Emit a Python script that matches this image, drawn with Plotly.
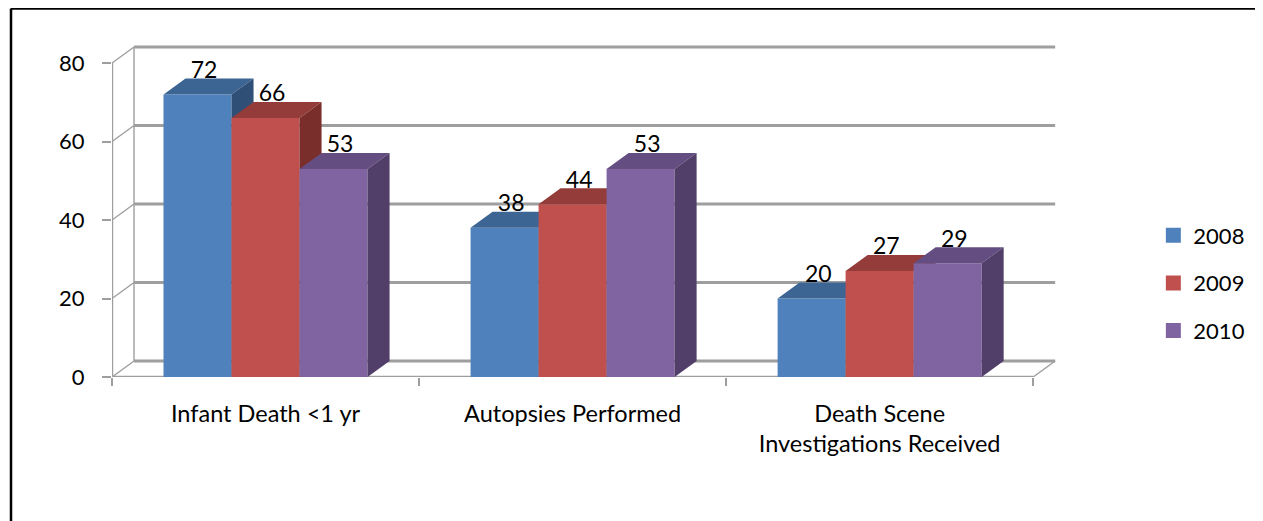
import plotly.graph_objects as go

# ---------------- data ----------------
categories = ["Infant Death <1 yr", "Autopsies Performed", "Death Scene<br>Investigations Received"]
years = ["2008", "2009", "2010"]
values_2008 = [72, 38, 20]
values_2009 = [66, 44, 27]
values_2010 = [53, 53, 29]
y_ticks = [0, 20, 40, 60, 80]

series = [values_2008, values_2009, values_2010]
front_colors = ["#4F81BD", "#C0504D", "#8064A2"]
top_colors = ["#3D6593", "#943C3A", "#644D81"]
side_colors = ["#2F4F77", "#7A2E2C", "#513E69"]

# ---------------- geometry ----------------
# page has an 8px body margin, so figure is 1255x513 placed at (8,8)
W, H = 1255, 513
ml, mr, mt, mb = 104, 193, 22, 144
PX_PER_UNIT = 3.925
y_max = (H - mt - mb) / PX_PER_UNIT
x_range = [-0.5, 2.62]
DX = 0.0717   # depth offset (category units)
DY = 4.08     # depth offset (value units)
BAR_W = 0.2215
FONT = "Lato, 'Open Sans', sans-serif"
GRID = "#9E9E9E"

fig = go.Figure()

# back wall gridlines + left wall diagonals
gx, gy, dxs, dys = [], [], [], []
for t in y_ticks:
    gx += [-0.5 + DX, 2.5 + DX, None]
    gy += [t + DY, t + DY, None]
    dxs += [-0.5, -0.5 + DX, None]
    dys += [t, t + DY, None]
fig.add_trace(go.Scatter(x=gx, y=gy, mode="lines", line=dict(color=GRID, width=2.8),
                         hoverinfo="skip", showlegend=False))
# diagonals, back-left edge, floor right diag
dxs += [-0.5 + DX, -0.5 + DX, None, 2.5, 2.5 + DX, None]
dys += [DY, y_ticks[-1] + DY, None, 0, DY, None]
fig.add_trace(go.Scatter(x=dxs, y=dys, mode="lines", line=dict(color=GRID, width=1.4),
                         hoverinfo="skip", showlegend=False))
# front y-axis line and floor front edge
fig.add_trace(go.Scatter(x=[-0.5, -0.5, None, -0.5, 2.5], y=[0, y_ticks[-1], None, 0, 0],
                         mode="lines", line=dict(color=GRID, width=2.4),
                         hoverinfo="skip", showlegend=False))

# 3D bars (front, top, side faces) drawn in series order
for k, vals in enumerate(series):
    fx, fy, tx, ty, sx, sy = [], [], [], [], [], []
    for i, v in enumerate(vals):
        x0 = i - 1.5 * BAR_W + k * BAR_W
        x1 = x0 + BAR_W
        fx += [x0, x1, x1, x0, x0, None]
        fy += [0, 0, v, v, 0, None]
        tx += [x0, x1, x1 + DX, x0 + DX, x0, None]
        ty += [v, v, v + DY, v + DY, v, None]
        sx += [x1, x1 + DX, x1 + DX, x1, x1, None]
        sy += [0, DY, v + DY, v, 0, None]
    for xs, ys, col in ((fx, fy, front_colors[k]), (tx, ty, top_colors[k]), (sx, sy, side_colors[k])):
        fig.add_trace(go.Scatter(x=xs, y=ys, mode="lines", fill="toself", fillcolor=col,
                                 line=dict(width=0, color=col), hoverinfo="skip",
                                 showlegend=False))

# data labels
for k, vals in enumerate(series):
    lx = [i - 1.5 * BAR_W + k * BAR_W + BAR_W / 2 + DX * 0.3 for i in range(len(vals))]
    ly = [v + DY - 1.3 for v in vals]
    fig.add_trace(go.Scatter(x=lx, y=ly, mode="text", text=[str(v) for v in vals],
                             textposition="top center", cliponaxis=False,
                             textfont=dict(family=FONT, size=23, color="black"),
                             hoverinfo="skip", showlegend=False))

# legend entries
for k, yr in enumerate(years):
    fig.add_trace(go.Scatter(x=[None], y=[None], mode="markers", name=yr,
                             legendgroup=yr,
                             marker=dict(symbol="square", size=15, color=front_colors[k])))

# outer border (left and top edges)
PW = W - ml - mr
PH = H - mt - mb
bx0 = (3 - ml) / PW
by_top = (H - mb - 0.5) / PH
by_bot = (H - mb - H) / PH
fig.add_shape(type="line", xref="paper", yref="paper", x0=bx0, x1=bx0, y0=by_bot, y1=by_top,
              line=dict(color="black", width=2.5))
fig.add_shape(type="line", xref="paper", yref="paper", x0=bx0, x1=(W - ml) / PW,
              y0=by_top, y1=by_top, line=dict(color="black", width=2.5))

fig.update_layout(
    width=W, height=H,
    margin=dict(l=ml, r=mr, t=mt, b=mb, pad=0),
    paper_bgcolor="white", plot_bgcolor="white",
    font=dict(family=FONT, size=22, color="black"),
    showlegend=True,
    legend=dict(x=1.087, y=(H - mb - 275) / PH, xanchor="left", yanchor="middle",
                font=dict(family=FONT, size=22, color="black"), tracegroupgap=16,
                bgcolor="rgba(0,0,0,0)"),
    xaxis=dict(range=x_range, showgrid=False, zeroline=False, showline=False,
               tickvals=list(range(len(categories))), ticktext=categories,
               ticks="", ticklabelstandoff=20,
               minor=dict(tickvals=[-0.5, 0.5, 1.5, 2.5], ticks="outside", ticklen=8,
                          tickcolor=GRID, tickwidth=1.5, showgrid=False),
               tickfont=dict(family=FONT, size=23.5, color="black")),
    yaxis=dict(range=[0, y_max], showgrid=False, zeroline=False, showline=False,
               tickvals=y_ticks, ticks="outside", ticklen=9, tickcolor=GRID, tickwidth=1.5,
               ticklabelstandoff=13,
               tickfont=dict(family=FONT, size=22, color="black")),
)

fig.write_html("out.html")
